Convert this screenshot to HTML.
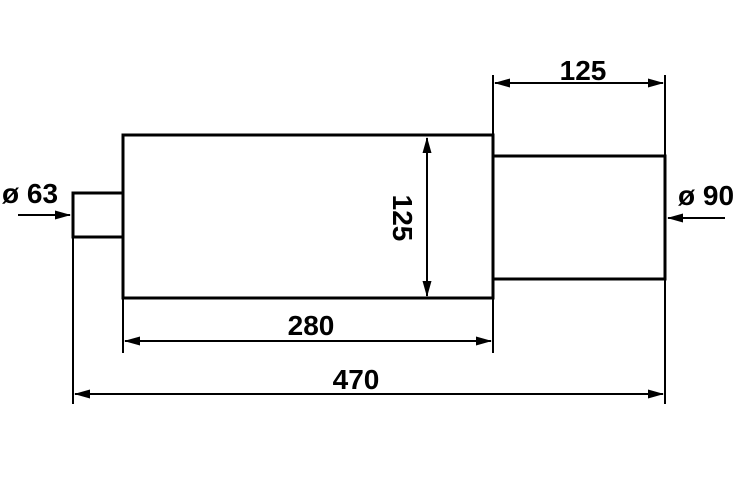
<!DOCTYPE html>
<html><head><style>html,body{margin:0;padding:0;background:#fff;}svg{display:block}</style></head>
<body>
<svg width="750" height="500" viewBox="0 0 750 500" xmlns="http://www.w3.org/2000/svg">
<defs>
<marker id="a" markerWidth="16" markerHeight="9" refX="15" refY="4.5" orient="auto" markerUnits="userSpaceOnUse">
<path d="M0,0 L16,4.5 L0,9 Z" fill="#000"/></marker>
<marker id="b" markerWidth="16" markerHeight="9" refX="1" refY="4.5" orient="auto" markerUnits="userSpaceOnUse">
<path d="M16,0 L0,4.5 L16,9 Z" fill="#000"/></marker>
</defs>
<g fill="none" stroke="#000" stroke-width="3">
<rect x="123" y="135" width="370" height="163"/>
<rect x="73" y="193" width="50" height="44"/>
<rect x="493" y="156" width="172" height="123"/>
</g>
<g stroke="#000" stroke-width="2">
<line x1="123" y1="298" x2="123" y2="353"/>
<line x1="73" y1="237" x2="73" y2="404"/>
<line x1="493" y1="75" x2="493" y2="353"/>
<line x1="665" y1="75" x2="665" y2="404"/>
<line x1="495" y1="83" x2="663" y2="83" marker-start="url(#b)" marker-end="url(#a)"/>
<line x1="125" y1="341" x2="491" y2="341" marker-start="url(#b)" marker-end="url(#a)"/>
<line x1="75" y1="394" x2="663" y2="394" marker-start="url(#b)" marker-end="url(#a)"/>
<line x1="427" y1="138" x2="427" y2="296" marker-start="url(#b)" marker-end="url(#a)"/>
<line x1="18" y1="215" x2="70" y2="215" marker-end="url(#a)"/>
<line x1="725" y1="218" x2="668" y2="218" marker-end="url(#a)"/>
</g>
<g font-family="Liberation Sans, sans-serif" font-weight="bold" font-size="28" fill="#000" text-anchor="middle">
<text x="583" y="80">125</text>
<text x="311" y="335">280</text>
<text x="356" y="389">470</text>
<text transform="translate(393,218) rotate(90)" x="0" y="0">125</text>
<text x="30" y="203">ø 63</text>
<text x="706" y="205">ø 90</text>
</g>
</svg>
</body></html>
